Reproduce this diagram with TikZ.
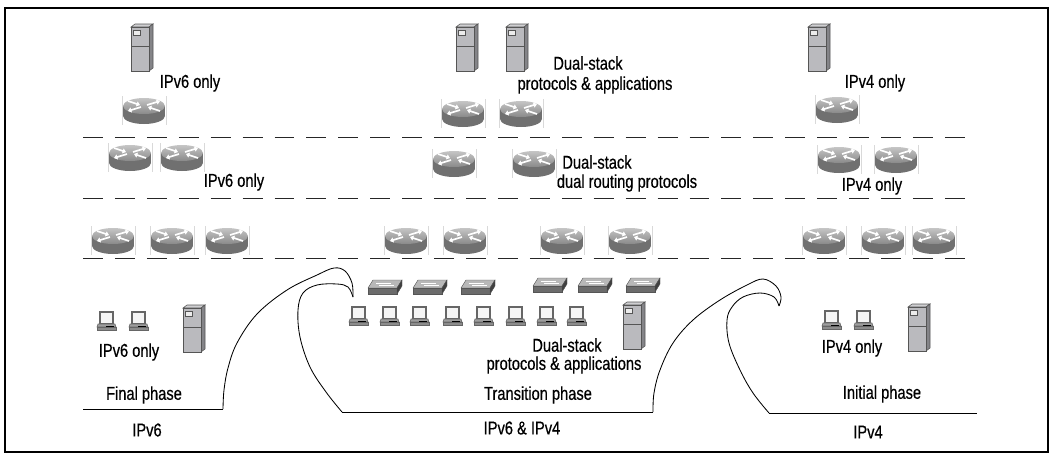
\documentclass[tikz,border=0pt]{standalone}
\usepackage{fontspec}
\setmainfont{Liberation Sans}[FakeStretch=0.79, FakeBold=0.5]
\usepackage{tikz}
\usetikzlibrary{arrows.meta}

\definecolor{routertop}{RGB}{172,172,172}
\definecolor{routerbody}{RGB}{112,112,112}
\definecolor{boxface}{RGB}{186,186,190}
\definecolor{boxside}{RGB}{132,132,136}
\definecolor{boxedge}{RGB}{85,85,85}

\tikzset{
	lbl/.style={font=\fontsize{13.2}{14}\selectfont, inner sep=0pt},
	tier/.style={draw=black!85, line width=0.7pt, dash pattern=on 14.2pt off 8.5pt},
	wave/.style={draw=black, line width=0.6pt},
	flow/.style={white, line width=1.2pt, -{Triangle[length=2.4pt,width=3.6pt]}},
	router/.pic={
		\draw[black!15, line width=0.3pt] (-22,-14) -- (-22,15) (22,-14) -- (22,15);
		\fill[routerbody] (0,6) ellipse[x radius=21, y radius=8];
		\fill[routerbody] (-21,-4) rectangle (21,6);
		\shade[top color=routertop!70!white, bottom color=routertop!80!black] (0,-4) ellipse[x radius=21, y radius=8];
		\draw[flow] (-16,-9) -- (-4,-5);
		\draw[flow] (-3,-3) -- (-16,1);
		\draw[flow] (3,-5) -- (16,-9);
		\draw[flow] (16,1) -- (4,-3);
	},
	server/.pic={
		\filldraw[fill=boxface!70!white, draw=boxedge, line width=0.4pt] (-11,-22) -- (-7,-25) -- (11,-25) -- (7,-22) -- cycle;
		\filldraw[fill=boxside, draw=boxedge, line width=0.4pt] (7,-22) -- (11,-25) -- (11,19) -- (7,22) -- cycle;
		\filldraw[fill=boxface, draw=boxedge, line width=0.4pt] (-11,-22) rectangle (7,22);
		\draw[boxedge, line width=0.4pt] (-11,-3) -- (7,-3);
		\filldraw[fill=white!85!gray, draw=boxedge, line width=0.3pt] (-9,-19) rectangle (-2,-14);
	},
	switch/.pic={
		\filldraw[fill=black!28, draw=boxedge, line width=0.3pt] (-17,0) -- (-12,-8) -- (17,-8) -- (12,0) -- cycle;
		\filldraw[fill=black!58, draw=boxedge, line width=0.3pt] (-17,0) rectangle (12,6);
		\filldraw[fill=black!75, draw=boxedge, line width=0.3pt] (12,0) -- (17,-8) -- (17,-2) -- (12,6) -- cycle;
		\draw[white, line width=0.7pt] (-9,-5) -- (6,-5) (-6,-3) -- (9,-3);
	},
	laptop/.pic={
		\filldraw[fill=white!92!gray, draw=black!60, line width=1.2pt] (-6,-10) rectangle (7,2);
		\filldraw[fill=black!38, draw=black!60, line width=0.4pt] (-8,2) -- (9,2) -- (10,5) -- (-9,5) -- cycle;
		\filldraw[fill=black!45, draw=black!60, line width=0.4pt] (-9,5) rectangle (10,8);
		\draw[black, line width=0.7pt] (0,4) -- (8,4);
	},
}

\begin{document}
\begin{tikzpicture}[x=0.025cm, y=-0.025cm]
	\useasboundingbox (0,0) rectangle (1054,456);
	\draw[line width=1pt] (5,8) rectangle (1048,452);

	\draw[tier] (83,137) -- (970,137);
	\draw[tier] (83,198) -- (970,198);
	\draw[tier] (83,258) -- (970,258);

	\pic (srvA) at (142,49) {server};
	\pic (srvB) at (467,49) {server};
	\pic (srvC) at (517,49) {server};
	\pic (srvD) at (819,49) {server};
	\pic (srvE) at (194,330) {server};
	\pic (srvF) at (634,327) {server};
	\pic (srvG) at (919,329) {server};

	\pic (edgeA) at (144,110) {router};
	\pic (edgeB) at (463,113) {router};
	\pic (edgeC) at (521,113) {router};
	\pic (edgeD) at (837,109) {router};

	\pic (distA) at (130,157) {router};
	\pic (distB) at (182,157) {router};
	\pic (distC) at (454,163) {router};
	\pic (distD) at (534,163) {router};
	\pic (distE) at (839,159) {router};
	\pic (distF) at (896,159) {router};

	\pic (coreA) at (113,240) {router};
	\pic (coreB) at (172,240) {router};
	\pic (coreC) at (227,240) {router};
	\pic (coreD) at (406,240) {router};
	\pic (coreE) at (465,240) {router};
	\pic (coreF) at (562,240) {router};
	\pic (coreG) at (630,240) {router};
	\pic (coreH) at (824,240) {router};
	\pic (coreI) at (883,240) {router};
	\pic (coreJ) at (934,240) {router};

	\pic (swA) at (385,288) {switch};
	\pic (swB) at (430,288) {switch};
	\pic (swC) at (478,288) {switch};
	\pic (swD) at (550,286) {switch};
	\pic (swE) at (595,286) {switch};
	\pic (swF) at (643,286) {switch};

	\pic (pcA) at (106,322) {laptop};
	\pic (pcB) at (138,322) {laptop};
	\pic (pcC) at (358,317) {laptop};
	\pic (pcD) at (389,317) {laptop};
	\pic (pcE) at (419,317) {laptop};
	\pic (pcF) at (452,317) {laptop};
	\pic (pcG) at (483,317) {laptop};
	\pic (pcH) at (515,317) {laptop};
	\pic (pcI) at (546,317) {laptop};
	\pic (pcJ) at (576,317) {laptop};
	\pic (pcK) at (831,321) {laptop};
	\pic (pcL) at (863,321) {laptop};

	\draw[wave] (83,409) -- (223,409);
	\draw[wave] plot[smooth, tension=0.6] coordinates {(223,409) (224,390) (228,368) (237,343) (257,314) (287,290) (317,275) (334,268) (345,271) (352,283) (353,297)};
	\draw[wave] plot[smooth, tension=0.6] coordinates {(353,297) (348,287) (337,284) (317,285) (303,293) (298,310) (300,337) (310,367) (326,392) (342,412)};
	\draw[wave] (342,412) -- (653,412);
	\draw[wave] plot[smooth, tension=0.6] coordinates {(653,412) (654,393) (660,370) (673,343) (693,320) (720,300) (747,285) (763,279) (776,286) (781,297) (779,306)};
	\draw[wave] plot[smooth, tension=0.6] coordinates {(779,306) (774,297) (760,293) (743,297) (732,307) (727,320) (729,343) (740,370) (753,393) (769,413)};
	\draw[wave] (769,413) -- (977,413);

	\node[lbl] (srv6) at (190,83) {IPv6 only};
	\node[lbl] (srvds) at (588,63) {Dual-stack};
	\node[lbl] (srvpa) at (595,85) {protocols \& applications};
	\node[lbl] (srv4) at (875,83) {IPv4 only};

	\node[lbl] (rt6) at (234,182) {IPv6 only};
	\node[lbl] (rtds) at (597,162) {Dual-stack};
	\node[lbl] (rtdr) at (627,183) {dual routing protocols};
	\node[lbl] (rt4) at (872,186) {IPv4 only};

	\node[lbl] (host6) at (129,352) {IPv6 only};
	\node[lbl] (hostds) at (567,345) {Dual-stack};
	\node[lbl] (hostpa) at (564,365) {protocols \& applications};
	\node[lbl] (host4) at (852,348) {IPv4 only};

	\node[lbl] (final) at (144,395) {Final phase};
	\node[lbl] (trans) at (538,395) {Transition phase};
	\node[lbl] (init) at (882,394) {Initial phase};

	\node[lbl] (net6) at (147,430) {IPv6};
	\node[lbl] (netds) at (522,428) {IPv6 \& IPv4};
	\node[lbl] (net4) at (868,432) {IPv4};
\end{tikzpicture}
\end{document}
